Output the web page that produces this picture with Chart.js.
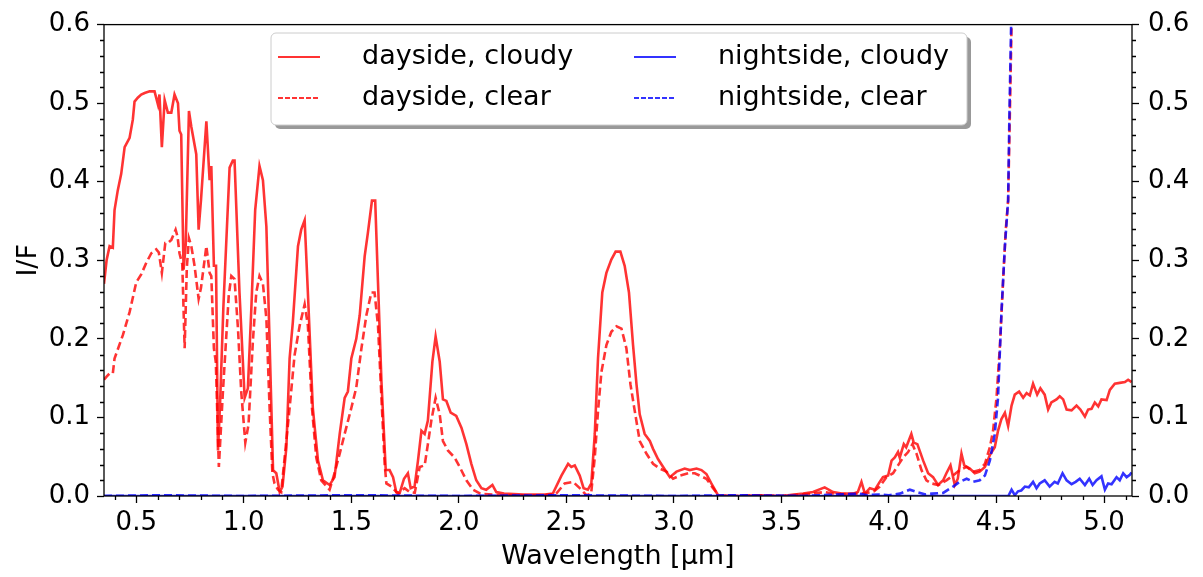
<!DOCTYPE html>
<html>
<head>
<meta charset="utf-8">
<script src="https://cdn.jsdelivr.net/npm/chart.js@4"></script>
<style>
  body { margin: 0; background: #fff; }
  canvas { display: block; }
</style>
</head>
<body>
<canvas id="spectrum" width="1203" height="577"></canvas>
<script>
// wavelength [um] and I/F for each curve
const dayCloudyWl = [0.350,0.362,0.376,0.391,0.399,0.414,0.430,0.446,0.469,0.484,0.492,0.507,0.523,0.539,0.562,0.585,0.601,0.608,0.619,0.632,0.647,0.663,0.678,0.694,0.701,0.709,0.720,0.730,0.745,0.756,0.779,0.790,0.801,0.826,0.841,0.849,0.861,0.871,0.880,0.890,0.905,0.934,0.949,0.957,0.980,1.004,1.019,1.035,1.053,1.073,1.089,1.105,1.120,1.136,1.151,1.167,1.180,1.198,1.213,1.228,1.252,1.267,1.283,1.298,1.321,1.345,1.368,1.399,1.422,1.446,1.469,1.484,1.500,1.523,1.539,1.562,1.577,1.596,1.611,1.624,1.640,1.660,1.678,1.694,1.709,1.725,1.745,1.763,1.776,1.794,1.810,1.826,1.841,1.856,1.877,1.892,1.911,1.926,1.942,1.962,1.988,2.012,2.035,2.058,2.081,2.105,2.127,2.156,2.174,2.210,2.300,2.400,2.437,2.477,2.508,2.523,2.539,2.562,2.580,2.600,2.616,2.632,2.647,2.667,2.686,2.709,2.729,2.751,2.771,2.791,2.810,2.826,2.841,2.864,2.888,2.903,2.926,2.950,2.981,3.012,3.050,3.074,3.105,3.128,3.151,3.174,3.205,3.300,3.400,3.500,3.601,3.647,3.701,3.740,3.780,3.833,3.855,3.872,3.888,3.911,3.935,3.957,3.972,3.996,4.012,4.027,4.042,4.050,4.069,4.080,4.104,4.115,4.132,4.159,4.182,4.205,4.228,4.252,4.267,4.286,4.306,4.320,4.337,4.350,4.376,4.399,4.422,4.446,4.469,4.492,4.507,4.523,4.539,4.554,4.570,4.585,4.605,4.624,4.640,4.655,4.670,4.689,4.704,4.724,4.740,4.755,4.779,4.794,4.810,4.826,4.849,4.872,4.890,4.911,4.926,4.942,4.957,4.973,4.988,5.012,5.027,5.050,5.073,5.097,5.112,5.128];
const dayCloudyIF = [0.270,0.300,0.318,0.316,0.364,0.389,0.410,0.444,0.456,0.479,0.502,0.507,0.511,0.513,0.515,0.515,0.498,0.511,0.444,0.504,0.488,0.488,0.511,0.500,0.465,0.460,0.288,0.320,0.490,0.470,0.435,0.339,0.377,0.477,0.402,0.420,0.293,0.293,0.058,0.120,0.240,0.418,0.427,0.427,0.259,0.125,0.137,0.238,0.364,0.420,0.402,0.343,0.196,0.033,0.029,0.005,0.012,0.062,0.175,0.221,0.318,0.339,0.351,0.259,0.112,0.045,0.020,0.014,0.024,0.079,0.125,0.133,0.175,0.200,0.230,0.305,0.335,0.376,0.376,0.272,0.146,0.033,0.033,0.024,0.005,0.004,0.022,0.029,0.010,0.012,0.045,0.083,0.079,0.096,0.171,0.203,0.171,0.123,0.121,0.106,0.102,0.087,0.066,0.041,0.020,0.010,0.008,0.014,0.005,0.003,0.002,0.002,0.003,0.026,0.041,0.037,0.039,0.026,0.010,0.008,0.016,0.079,0.175,0.259,0.284,0.301,0.311,0.311,0.293,0.259,0.192,0.142,0.104,0.079,0.070,0.060,0.047,0.037,0.024,0.031,0.035,0.033,0.035,0.033,0.028,0.016,0.001,0.000,0.001,0.000,0.003,0.005,0.011,0.005,0.003,0.003,0.005,0.018,0.003,0.010,0.008,0.018,0.024,0.026,0.045,0.049,0.056,0.049,0.066,0.062,0.079,0.068,0.066,0.045,0.029,0.024,0.014,0.020,0.029,0.039,0.014,0.022,0.054,0.039,0.035,0.029,0.031,0.037,0.052,0.062,0.083,0.098,0.106,0.089,0.115,0.129,0.133,0.125,0.131,0.128,0.143,0.129,0.137,0.129,0.110,0.119,0.123,0.127,0.123,0.110,0.109,0.115,0.110,0.101,0.110,0.111,0.119,0.114,0.123,0.122,0.135,0.143,0.144,0.145,0.148,0.145];

const dayClearWl = [0.350,0.362,0.376,0.391,0.399,0.438,0.469,0.500,0.523,0.547,0.570,0.593,0.605,0.619,0.635,0.647,0.663,0.683,0.692,0.701,0.714,0.725,0.735,0.745,0.756,0.771,0.790,0.801,0.826,0.841,0.849,0.861,0.870,0.884,0.903,0.930,0.942,0.957,0.973,0.988,1.007,1.022,1.042,1.058,1.073,1.089,1.105,1.120,1.133,1.143,1.159,1.174,1.190,1.213,1.236,1.260,1.283,1.298,1.317,1.337,1.360,1.399,1.422,1.446,1.469,1.500,1.523,1.547,1.570,1.593,1.608,1.624,1.640,1.655,1.663,1.686,1.717,1.748,1.771,1.795,1.818,1.841,1.856,1.872,1.892,1.911,1.926,1.949,1.980,2.004,2.035,2.066,2.100,2.200,2.300,2.400,2.453,2.492,2.531,2.562,2.593,2.615,2.632,2.647,2.663,2.686,2.709,2.733,2.756,2.779,2.798,2.818,2.841,2.872,2.903,2.934,2.965,2.996,3.027,3.066,3.097,3.151,3.182,3.210,3.300,3.400,3.500,3.640,3.700,3.760,3.850,3.900,3.930,3.957,3.988,4.019,4.042,4.066,4.089,4.109,4.128,4.151,4.174,4.198,4.230,4.267,4.298,4.329,4.361,4.392,4.422,4.446,4.469,4.484,4.500,4.516,4.531,4.543,4.554,4.562,4.570,4.580];
const dayClearIF = [0.148,0.152,0.156,0.156,0.175,0.205,0.234,0.272,0.282,0.297,0.309,0.314,0.310,0.284,0.322,0.322,0.326,0.339,0.330,0.309,0.295,0.188,0.290,0.328,0.318,0.293,0.251,0.265,0.318,0.284,0.280,0.188,0.170,0.037,0.133,0.255,0.280,0.276,0.213,0.133,0.068,0.091,0.196,0.259,0.280,0.270,0.226,0.112,0.029,0.016,0.008,0.005,0.049,0.112,0.179,0.217,0.244,0.217,0.112,0.049,0.020,0.008,0.029,0.054,0.079,0.112,0.138,0.188,0.230,0.259,0.259,0.217,0.125,0.041,0.016,0.012,0.003,0.010,0.005,0.004,0.037,0.039,0.066,0.096,0.125,0.104,0.070,0.058,0.049,0.037,0.020,0.008,0.003,0.001,0.001,0.001,0.003,0.016,0.018,0.010,0.001,0.003,0.049,0.108,0.158,0.192,0.209,0.216,0.213,0.188,0.142,0.108,0.070,0.054,0.041,0.035,0.031,0.022,0.026,0.029,0.029,0.022,0.010,0.000,0.000,0.001,0.000,0.003,0.005,0.002,0.003,0.004,0.006,0.012,0.024,0.029,0.039,0.049,0.056,0.066,0.054,0.033,0.020,0.016,0.014,0.020,0.026,0.033,0.037,0.031,0.033,0.041,0.062,0.083,0.125,0.192,0.276,0.339,0.376,0.486,0.600,0.750];

const nightCloudyWl = [0.35,1.00,2.00,3.00,4.00,4.555,4.570,4.585,4.600,4.615,4.632,4.650,4.670,4.686,4.701,4.724,4.747,4.770,4.785,4.807,4.826,4.849,4.868,4.887,4.911,4.931,4.947,4.965,4.988,5.004,5.019,5.035,5.058,5.073,5.089,5.105,5.120,5.128];
const nightCloudyIF = [0.000,0.000,0.000,0.000,0.000,0.000,0.008,0.001,0.006,0.007,0.012,0.011,0.018,0.010,0.016,0.020,0.012,0.018,0.016,0.029,0.020,0.015,0.018,0.022,0.014,0.022,0.014,0.020,0.025,0.008,0.016,0.015,0.024,0.020,0.029,0.024,0.027,0.030];

const nightClearWl = [0.35,0.60,1.00,1.50,2.00,2.50,3.00,3.30,3.60,3.864,3.900,3.950,4.000,4.050,4.097,4.130,4.170,4.200,4.252,4.298,4.329,4.361,4.392,4.422,4.446,4.469,4.492,4.507,4.523,4.539,4.554,4.560,4.568,4.578];
const nightClearIF = [0.000,0.001,0.000,0.001,0.000,0.001,0.000,0.001,0.000,0.003,0.001,0.002,0.001,0.003,0.008,0.005,0.002,0.003,0.004,0.012,0.018,0.022,0.018,0.020,0.026,0.045,0.079,0.125,0.234,0.318,0.376,0.486,0.600,0.750];

const xTicks = [0.5,1.0,1.5,2.0,2.5,3.0,3.5,4.0,4.5,5.0];
const yTicks = [0.0,0.1,0.2,0.3,0.4,0.5,0.6];

const RED = 'rgba(255,0,0,0.8)';
const BLUE = 'rgba(0,0,255,0.8)';
const FONT = 'DejaVu Sans';

function pts(wl, vals) {
  return wl.map((x, i) => ({x: x, y: vals[i]}));
}

const frameAndMinor = {
  id: 'frameAndMinor',
  afterDraw(chart) {
    const ctx = chart.ctx;
    const a = chart.chartArea;
    const sx = chart.scales.x, sy = chart.scales.y;
    ctx.save();
    ctx.strokeStyle = '#000';
    ctx.lineWidth = 1.3;
    ctx.beginPath();
    for (let k = 4; k <= 51; k++) {
      if (k % 5 === 0) continue;
      const px = Math.round(sx.getPixelForValue(k / 10)) + 0.5;
      ctx.moveTo(px, a.bottom); ctx.lineTo(px, a.bottom + 4);
    }
    for (let k = 1; k < 30; k++) {
      if (k % 5 === 0) continue;
      const py = Math.round(sy.getPixelForValue(k * 0.02)) + 0.5;
      ctx.moveTo(a.left, py); ctx.lineTo(a.left - 4, py);
      ctx.moveTo(a.right, py); ctx.lineTo(a.right + 4, py);
    }
    ctx.stroke();
    ctx.strokeRect(a.left, a.top, a.right - a.left, a.bottom - a.top);

    // legend box
    const bx = 271, by = 33, bw = 696, bh = 92, r = 5;
    const rr = (x, y) => {
      ctx.beginPath();
      ctx.moveTo(x + r, y);
      ctx.arcTo(x + bw, y, x + bw, y + bh, r);
      ctx.arcTo(x + bw, y + bh, x, y + bh, r);
      ctx.arcTo(x, y + bh, x, y, r);
      ctx.arcTo(x, y, x + bw, y, r);
      ctx.closePath();
    };
    ctx.fillStyle = 'rgba(0,0,0,0.4)';
    rr(bx + 4, by + 4); ctx.fill();
    ctx.fillStyle = '#fff';
    rr(bx, by); ctx.fill();
    ctx.strokeStyle = '#cccccc'; ctx.lineWidth = 1;
    ctx.stroke();

    const items = [
      {label: 'dayside, cloudy', color: RED, dash: [], x: 278, y: 57},
      {label: 'dayside, clear', color: RED, dash: [5, 2], x: 278, y: 98},
      {label: 'nightside, cloudy', color: BLUE, dash: [], x: 634, y: 57},
      {label: 'nightside, clear', color: BLUE, dash: [5, 2], x: 634, y: 98}
    ];
    ctx.font = '27px "' + FONT + '"';
    ctx.textBaseline = 'middle';
    items.forEach(it => {
      ctx.strokeStyle = it.color;
      ctx.lineWidth = 2;
      ctx.setLineDash(it.dash);
      ctx.beginPath();
      ctx.moveTo(it.x, it.y); ctx.lineTo(it.x + 42, it.y);
      ctx.stroke();
      ctx.setLineDash([]);
      ctx.fillStyle = '#000';
      ctx.fillText(it.label, it.x + 84, it.y);
    });
    ctx.restore();
  }
};

function fixedTicks(list) {
  return scale => { scale.ticks = list.map(v => ({value: v})); };
}

const tickFont = {family: FONT, size: 26};
const titleFont = {family: FONT, size: 27};

new Chart(document.getElementById('spectrum').getContext('2d'), {
  type: 'line',
  data: {
    datasets: [
      {label: 'dayside, cloudy', data: pts(dayCloudyWl, dayCloudyIF), borderColor: RED, borderWidth: 2.6, order: 4},
      {label: 'dayside, clear', data: pts(dayClearWl, dayClearIF), borderColor: RED, borderWidth: 2.6, borderDash: [8, 4], order: 3},
      {label: 'nightside, cloudy', data: pts(nightCloudyWl, nightCloudyIF), borderColor: BLUE, borderWidth: 2.6, order: 2},
      {label: 'nightside, clear', data: pts(nightClearWl, nightClearIF), borderColor: BLUE, borderWidth: 2.6, borderDash: [8, 4], order: 1}
    ]
  },
  options: {
    responsive: false,
    animation: false,
    devicePixelRatio: 1,
    parsing: false,
    elements: {point: {radius: 0}, line: {tension: 0, fill: false}},
    layout: {padding: {top: 18, left: 0, right: 0, bottom: 0}},
    plugins: {legend: {display: false}, tooltip: {enabled: false}},
    scales: {
      x: {
        type: 'linear', min: 0.35, max: 5.13, position: 'bottom',
        afterBuildTicks: fixedTicks(xTicks),
        afterFit: s => { s.height = 81; },
        grid: {drawOnChartArea: false, tickLength: 7, tickColor: '#000', tickWidth: 1.3},
        border: {display: false},
        ticks: {font: tickFont, color: '#000', padding: 5, maxRotation: 0, callback: v => v.toFixed(1)},
        title: {display: true, text: 'Wavelength [μm]', font: titleFont, color: '#000', padding: {top: 0, bottom: 4}}
      },
      y: {
        type: 'linear', min: 0, max: 0.6, position: 'left',
        afterBuildTicks: fixedTicks(yTicks),
        afterFit: s => { s.width = 104; },
        grid: {drawOnChartArea: false, tickLength: 7, tickColor: '#000', tickWidth: 1.3},
        border: {display: false},
        ticks: {font: tickFont, color: '#000', padding: 7, callback: v => v.toFixed(1)},
        title: {display: true, text: 'I/F', font: titleFont, color: '#000', padding: {top: 13, bottom: 0}}
      },
      y2: {
        type: 'linear', min: 0, max: 0.6, position: 'right',
        afterBuildTicks: fixedTicks(yTicks),
        afterFit: s => { s.width = 71; },
        grid: {drawOnChartArea: false, tickLength: 7, tickColor: '#000', tickWidth: 1.3},
        border: {display: false},
        ticks: {font: tickFont, color: '#000', padding: 9, callback: v => v.toFixed(1)}
      }
    }
  },
  plugins: [frameAndMinor]
});
</script>
</body>
</html>
